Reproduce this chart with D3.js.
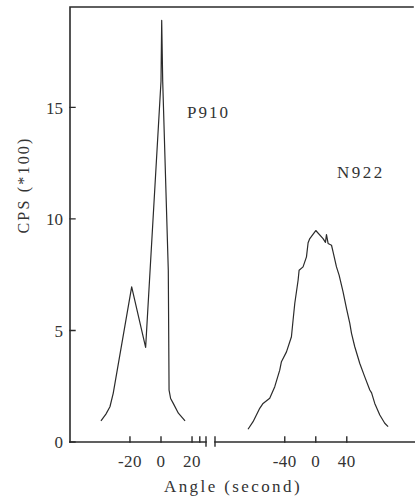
<!DOCTYPE html>
<html>
<head>
<meta charset="utf-8">
<script src="https://cdn.jsdelivr.net/npm/d3@7"></script>
<style>
  html, body { margin: 0; padding: 0; background: #fff; }
  svg text { font-family: "Liberation Serif", "DejaVu Serif", serif; fill: #333; }
</style>
</head>
<body>
<svg id="chart" width="415" height="500"></svg>
<script>
// Rocking curves of two samples, plotted on a broken angle axis
const p910Angle = [-38.7, -35.5, -32.9, -30.8, -18.9, -9.9, 0, 0.45, 1.1, 4.7, 5.2, 6.2, 7.9, 11.2, 15.5];
const p910Cps   = [0.95, 1.25, 1.58, 2.18, 6.95, 4.24, 16.17, 18.9, 16.17, 7.70, 2.33, 1.95, 1.73, 1.29, 0.95];

const n922Angle = [-87.4, -80.9, -72.3, -68.0, -59.4, -52.9, -46.5, -44.3, -37.8, -31.4, -29.3, -27.1,
                   -22.8, -21.5, -16.4, -12.0, -9.9, -7.7, 0, 9.4, 12.5, 13.8, 15.9, 20.3, 22.3, 26.7,
                   30.1, 35.2, 39.6, 43.9, 46.1, 50.3, 56.8, 63.2, 69.7, 72.0, 76.1, 82.6, 89.0, 93.3];
const n922Cps   = [0.57, 0.91, 1.51, 1.73, 1.96, 2.48, 3.22, 3.60, 4.04, 4.72, 5.46, 6.21,
                   7.25, 7.70, 7.85, 8.30, 8.93, 9.12, 9.48, 9.12, 8.95, 9.30, 8.90, 8.82, 8.52, 7.85,
                   7.48, 6.73, 5.99, 5.32, 4.87, 4.27, 3.52, 2.92, 2.33, 2.20, 1.73, 1.21, 0.84, 0.69];

const yTicks      = [0, 5, 10, 15];
const leftXTicks  = [-20, 0, 20];
const rightXTicks = [-40, 0, 40];
const sampleNames = ["P910", "N922"];

const svg = d3.select("#chart");
const ink = "#2b2b2b";

const y = d3.scaleLinear().domain([0, 19.5]).range([442, 7]);
const xLeft = d3.scaleLinear().domain([-58, 29]).range([71, 206]);
const xRight = d3.scaleLinear().domain([-130, 128]).range([215, 415]);
const x0 = 70;

// axis strokes are built as a single path each, with square pixels
function strokePath(d, w) {
  svg.append("path").attr("d", d)
    .attr("fill", "none").attr("stroke", ink).attr("stroke-width", w || 1.5)
    .attr("stroke-linecap", "square");
}

// frame: left axis and top border
strokePath(`M${x0},${y(0)}L${x0},${y.range()[1]}L413,${y.range()[1]}`, 1.6);

// y axis ticks pointing into the plot
strokePath(yTicks.map(t => `M${x0},${y(t)}h5`).join(""), 1.4);
svg.append("g").selectAll("text").data(yTicks).join("text")
  .attr("x", 63).attr("y", d => y(d)).attr("dy", "0.36em")
  .attr("text-anchor", "end").attr("font-size", 17)
  .text(d => d);

// broken x axis: two segments with their own scales
function xAxisPart(scale, ticks, start) {
  const b = scale.range()[1];
  strokePath(`M${start},${y(0)}L${b},${y(0)}`, 1.6);
  strokePath(ticks.map(t => `M${scale(t)},${y(0)}v-5`).join(""), 1.4);
  svg.append("g").selectAll("text").data(ticks).join("text")
    .attr("x", d => scale(d)).attr("y", 467)
    .attr("text-anchor", "middle").attr("font-size", 17).attr("letter-spacing", 0.5)
    .text(d => d);
}
xAxisPart(xLeft, leftXTicks, x0);
xAxisPart(xRight, rightXTicks, xRight.range()[0]);

// break marks where the axis is cut
strokePath([xLeft.range()[1], xRight.range()[0]].map(px => `M${px},${y(0) - 5}v9`).join("")
  + `M${xLeft(25)},${y(0)}v-5`, 1.4);

// curves
const lineLeft = d3.line().x(d => xLeft(d[0])).y(d => y(d[1]));
const lineRight = d3.line().x(d => xRight(d[0])).y(d => y(d[1]));
svg.append("path")
  .datum(p910Angle.map((a, i) => [a, p910Cps[i]]))
  .attr("d", lineLeft)
  .attr("fill", "none").attr("stroke", ink).attr("stroke-width", 1.2).attr("stroke-linejoin", "round");
svg.append("path")
  .datum(n922Angle.map((a, i) => [a, n922Cps[i]]))
  .attr("d", lineRight)
  .attr("fill", "none").attr("stroke", ink).attr("stroke-width", 1.2).attr("stroke-linejoin", "round");

// sample labels
svg.append("text").attr("x", 187).attr("y", 118).attr("font-size", 17)
  .attr("letter-spacing", 2).text(sampleNames[0]);
svg.append("text").attr("x", 337).attr("y", 178).attr("font-size", 17)
  .attr("letter-spacing", 2.5).text(sampleNames[1]);

// axis titles
svg.append("text")
  .attr("transform", "translate(29,185) rotate(-90)")
  .attr("text-anchor", "middle").attr("font-size", 16).attr("letter-spacing", 2.2)
  .text("CPS (*100)");
svg.append("text")
  .attr("x", 233).attr("y", 492)
  .attr("text-anchor", "middle").attr("font-size", 17).attr("letter-spacing", 2.4)
  .text("Angle (second)");
</script>
</body>
</html>
